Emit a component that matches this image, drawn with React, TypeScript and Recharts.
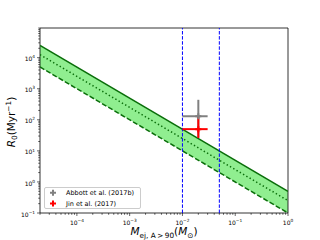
import { ComposedChart, Area, Line, Scatter, ErrorBar, XAxis, YAxis, ReferenceLine, ReferenceArea, Legend, Label } from "recharts";

const FONT = "'DejaVu Sans', sans-serif";

// band (straight lines on log-log, end points only)
const massGrid = [2e-5, 1];
const upperRate = [25000, 0.5];
const centralRate = [12500, 0.25];
const lowerRate = [5000, 0.1];

// vertical limits on the ejecta mass
const massLimits = [0.01, 0.05];

// measured rates
const seriesNames = ["Abbott et al. (2017b)", "Jin et al. (2017)"];
const seriesColors = ["#808080", "#ff0000"];
const pointMass = [0.02, 0.02];
const pointMassErr = [[0.01, 0.01], [0.01, 0.01]];
const pointRate = [130, 50];
const pointRateErr = [[103, 310], [24, 75]];

const majorXTicks = [1e-4, 1e-3, 1e-2, 1e-1, 1];
const majorYTicks = [1e-1, 1, 10, 100, 1e3, 1e4];
const minorMult = [2, 3, 4, 5, 6, 7, 8, 9];

const X_DOMAIN = [2e-5, 1];
const Y_DOMAIN = [0.1, 9e4];

const withMinors = (majors: number[], lo: number, hi: number) => {
  const out: number[] = [];
  [majors[0] / 10, ...majors].forEach((m) => {
    if (m >= lo && m <= hi) out.push(m);
    minorMult.forEach((k) => {
      const v = m * k;
      if (v >= lo && v <= hi) out.push(v);
    });
  });
  return out.sort((a, b) => a - b);
};

const xTicks = withMinors(majorXTicks, X_DOMAIN[0], X_DOMAIN[1]);
const yTicks = withMinors(majorYTicks, Y_DOMAIN[0], Y_DOMAIN[1]);

const bandData = massGrid.map((x, i) => ({ x, upper: upperRate[i], central: centralRate[i], lower: lowerRate[i] }));

const points = seriesNames.map((name, i) => [
  { name, x: pointMass[i], y: pointRate[i], ex: pointMassErr[i], ey: pointRateErr[i] },
]);

const isMajor = (v: number) => {
  const l = Math.log10(v);
  return Math.abs(l - Math.round(l)) < 1e-6;
};
const expText = (v: number) => {
  const e = Math.round(Math.log10(v));
  return e < 0 ? "\u2212" + -e : String(e);
};

function XTick({ x, y, payload }: any) {
  const v = payload.value;
  const major = isMajor(v);
  return (
    <g>
      <line x1={x} x2={x} y1={y} y2={y + (major ? 3 : 1.8)} stroke="#000" strokeWidth={0.6} />
      {major && (
        <text x={x} y={y + 11.5} textAnchor="middle" fontSize={6} fontFamily={FONT} fill="#000">
          10<tspan dy={-2.9} fontSize={4.3}>{expText(v)}</tspan>
        </text>
      )}
    </g>
  );
}

function YTick({ x, y, payload }: any) {
  const v = payload.value;
  const major = isMajor(v);
  return (
    <g>
      <line x1={x} x2={x - (major ? 3 : 1.8)} y1={y} y2={y} stroke="#000" strokeWidth={0.6} />
      {major && (
        <text x={x - 5} y={y + 3.6} textAnchor="end" fontSize={6} fontFamily={FONT} fill="#000">
          10<tspan dy={-2.9} fontSize={4.3}>{expText(v)}</tspan>
        </text>
      )}
    </g>
  );
}

function XTitle({ viewBox }: any) {
  const cx = viewBox.x + viewBox.width / 2;
  const y = viewBox.y + 22;
  return (
    <text x={cx} y={y} textAnchor="middle" fontSize={10.5} fontFamily={FONT} fill="#000">
      <tspan fontStyle="italic">M</tspan>
      <tspan dy={2.5} fontSize={7.3}>ej, A{"\u2009"}&gt;{"\u2009"}90</tspan>
      <tspan dy={-2.5}>(</tspan>
      <tspan fontStyle="italic">M</tspan>
      <tspan dy={2.5} fontSize={7.3}>{"\u2299"}</tspan>
      <tspan dy={-2.5}>)</tspan>
    </text>
  );
}

function YTitle() {
  const cx = 11;
  const cy = 122;
  return (
    <text x={cx} y={cy} transform={`rotate(-90, ${cx}, ${cy})`} textAnchor="middle" dominantBaseline="central" fontSize={10.5} fontFamily={FONT} fill="#000">
      <tspan fontStyle="italic">R</tspan>
      <tspan dy={2.5} fontSize={7.3}>0</tspan>
      <tspan dy={-2.5}>(Myr</tspan>
      <tspan dy={-3.5} fontSize={7.3}>{"\u2212"}1</tspan>
      <tspan dy={3.5}>)</tspan>
    </text>
  );
}

function PlusMarker({ cx, cy, fill }: any) {
  const s = 3;
  const t = 1;
  const d = `M${cx - t},${cy - s}H${cx + t}V${cy - t}H${cx + s}V${cy + t}H${cx + t}V${cy + s}H${cx - t}V${cy + t}H${cx - s}V${cy - t}H${cx - t}Z`;
  return <path d={d} fill={fill} />;
}

function LegendBox() {
  return (
    <div
      style={{
        width: 97,
        height: 22,
        boxSizing: "border-box",
        border: "0.8px solid #cccccc",
        borderRadius: 2,
        background: "rgba(255,255,255,0.8)",
      }}
    >
      <svg width={95} height={20} style={{ display: "block" }}>
        {seriesNames.map((name, i) => (
          <g key={name}>
            <PlusMarker cx={8} cy={4.8 + i * 10.6} fill={seriesColors[i]} />
            <text x={21} y={7.1 + i * 10.6} fontSize={6.5} fontFamily={FONT} fill="#000">
              {name}
            </text>
          </g>
        ))}
      </svg>
    </div>
  );
}

export default function App() {
  return (
    <div style={{ position: "absolute", left: 0, top: 0, width: 320, height: 240, background: "#fff" }}>
      <ComposedChart width={320} height={240} data={bandData} margin={{ top: 28, right: 32, bottom: 0, left: 0 }}>
        <XAxis
          dataKey="x"
          type="number"
          scale="log"
          domain={X_DOMAIN}
          allowDataOverflow
          ticks={xTicks}
          interval={0}
          height={27}
          axisLine={false}
          tickLine={false}
          tickSize={0}
          tickMargin={0}
          tick={<XTick />}
        >
          <Label content={<XTitle />} />
        </XAxis>
        <YAxis
          type="number"
          scale="log"
          domain={Y_DOMAIN}
          allowDataOverflow
          ticks={yTicks}
          interval={0}
          width={40}
          axisLine={false}
          tickLine={false}
          tickSize={0}
          tickMargin={0}
          tick={<YTick />}
        >
          <Label content={<YTitle />} />
        </YAxis>
        <Area
          type="linear"
          dataKey={(d: any) => [d.lower, d.upper]}
          fill="#90ee90"
          fillOpacity={1}
          stroke="none"
          isAnimationActive={false}
        />
        <Line type="linear" dataKey="upper" stroke="#0a6e0a" strokeWidth={1.5} dot={false} isAnimationActive={false} />
        <Line type="linear" dataKey="central" stroke="#0a6e0a" strokeWidth={1.5} strokeDasharray="1.4 2.4" dot={false} isAnimationActive={false} />
        <Line type="linear" dataKey="lower" stroke="#0a6e0a" strokeWidth={1.5} strokeDasharray="5 2.2" dot={false} isAnimationActive={false} />
        {massLimits.map((m) => (
          <ReferenceLine key={m} x={m} stroke="#0000ff" strokeWidth={1} strokeDasharray="3.5 1.6" />
        ))}
        {points.map((data, i) => (
          <Scatter
            key={seriesNames[i]}
            name={seriesNames[i]}
            data={data}
            dataKey="y"
            fill={seriesColors[i]}
            shape={<PlusMarker />}
            isAnimationActive={false}
          >
            <ErrorBar dataKey="ex" direction="x" width={0} stroke={seriesColors[i]} strokeWidth={2} />
            <ErrorBar dataKey="ey" direction="y" width={0} stroke={seriesColors[i]} strokeWidth={2} />
          </Scatter>
        ))}
        <ReferenceArea x1={X_DOMAIN[0]} x2={X_DOMAIN[1]} y1={Y_DOMAIN[0]} y2={Y_DOMAIN[1]} fill="none" stroke="#000" strokeWidth={0.8} />
        <Legend
          layout="vertical"
          align="center"
          verticalAlign="middle"
          wrapperStyle={{ left: 44, top: 187, width: 97, height: 22 }}
          content={() => <LegendBox />}
        />
      </ComposedChart>
    </div>
  );
}
